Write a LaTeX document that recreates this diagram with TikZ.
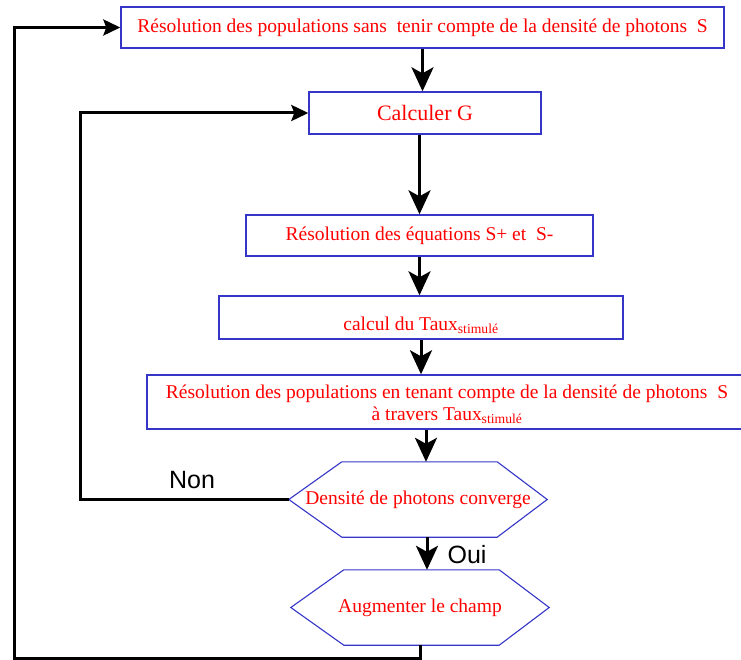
\documentclass[tikz,border=0pt]{standalone}
\usepackage{fontspec}
\setmainfont{Liberation Serif}
\newfontfamily\answerfont{Liberation Sans}
\usepackage{xcolor}
\usetikzlibrary{arrows.meta}
\definecolor{boxblue}{HTML}{3535C8}
\definecolor{textred}{HTML}{FF0000}

\tikzset{
    stepbox/.style={draw=boxblue, line width=1.4pt, text=textred, inner sep=0pt,
          align=center, font=\fontsize{19.5}{21.5}\selectfont},
    decision/.style={minimum width=258pt, minimum height=75pt, inner sep=0pt,
          text=textred, font=\fontsize{19.5}{21.5}\selectfont},
    hexline/.style={draw=boxblue, line width=1.1pt, line join=miter},
    flow/.style={line width=3pt, line join=miter,
          -{Stealth[length=24pt, width=22pt, inset=6pt]}},
    back/.style={line width=3pt, line join=miter,
          -{Stealth[length=17pt, width=16pt, inset=3pt]}},
    answer/.style={font=\answerfont\fontsize{25}{28}\selectfont, inner sep=0pt}
}

\begin{document}
\begin{tikzpicture}[x=1pt, y=-1pt]
    \useasboundingbox (0,0) rectangle (741,660);
    \clip (0,0) rectangle (741,660);

    % steps of the loop
    \node[stepbox, minimum width=603pt, minimum height=41pt] (popfree) at (422.5,27.5)
        {Résolution des populations sans~ tenir compte de la densité de photons~ S};
    \node[stepbox, minimum width=232pt, minimum height=42pt,
          font=\fontsize{22}{24}\selectfont] (gain) at (425,113) {Calculer G};
    \node[stepbox, minimum width=347pt, minimum height=41pt] (eqs) at (419.5,235.5)
        {Résolution des équations S+ et~ S-};
    \node[stepbox, minimum width=404pt, minimum height=43pt] (rate) at (421,317.5)
        {\mbox{}\\[8pt]calcul du Taux\textsubscript{stimulé}};
    \node[stepbox, minimum width=600pt, minimum height=54pt] (popstim) at (447,402)
        {\rule{0pt}{18pt}Résolution des populations en tenant compte de la densité de photons~ S\\
         à travers Taux\textsubscript{stimulé}};

    % tests
    \node[decision] (conv) at (418,499.5) {Densité de photons converge};
    \node[decision] (champ) at (420,607.5) {Augmenter le champ};
    \draw[hexline] (conv.west) -- ([xshift=53pt]conv.north west)
        -- ([xshift=-50pt]conv.north east) -- (conv.east)
        -- ([xshift=-50pt]conv.south east) -- ([xshift=53pt]conv.south west) -- cycle;
    \draw[hexline] (champ.west) -- ([xshift=53pt]champ.north west)
        -- ([xshift=-50pt]champ.north east) -- (champ.east)
        -- ([xshift=-50pt]champ.south east) -- ([xshift=53pt]champ.south west) -- cycle;

    \node[answer] (non) at (192,480) {Non};
    \node[answer] (oui) at (467,555) {Oui};
    \coordinate (nonx) at (80,113);
    \coordinate (outer) at (14,658);

    % arrows
    \draw[flow] (popfree.south) -- (popfree.south |- gain.north);
    \draw[flow] (eqs.north |- gain.south) -- (eqs.north);
    \draw[flow] (eqs.south) -- (eqs.south |- rate.north);
    \draw[flow] (rate.south) -- (rate.south |- popstim.north);
    \draw[flow] ([xshift=8pt]conv.north |- popstim.south) -- ([xshift=8pt]conv.north);
    \draw[flow] ([xshift=9pt]conv.south) -- ([xshift=9pt]conv.south |- champ.north);
    \draw[back] (conv.west) -| (nonx |- gain.west) -- (gain.west);
    \draw[back] (champ.south) |- (outer) |- (popfree.west);
\end{tikzpicture}
\end{document}
